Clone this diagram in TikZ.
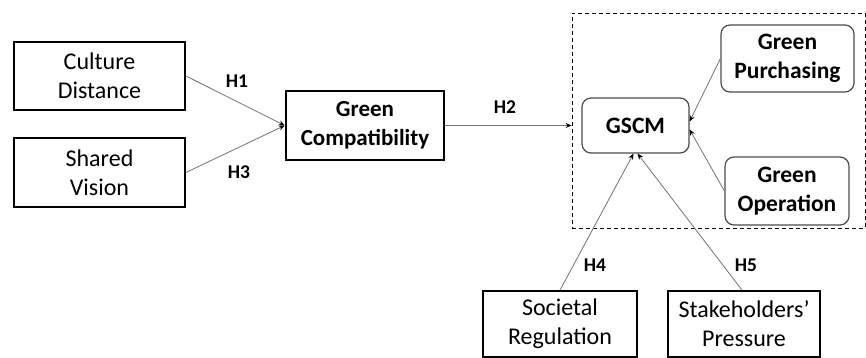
\documentclass[tikz,border=0pt]{standalone}
\usepackage{fontspec}
\setmainfont{Carlito}
\usetikzlibrary{arrows.meta}

\tikzset{
  plainbox/.style={draw=black, line width=1.8pt, align=center, inner sep=0pt,
    font=\fontsize{24}{29}\selectfont},
  corebox/.style={draw=black, line width=2.6pt, align=center, inner sep=0pt,
    font=\bfseries\fontsize{23}{29}\selectfont},
  roundbox/.style={draw=black!70, line width=1.2pt, rounded corners=9pt, align=center,
    inner sep=0pt, font=\bfseries\fontsize{23.5}{29}\selectfont},
  groupbox/.style={draw=black, line width=0.8pt, dash pattern=on 4pt off 3pt, inner sep=0pt},
  link/.style={draw=black!55, line width=0.8pt,
    -{Stealth[length=6pt, width=5pt, color=black]}},
  hyp/.style={font=\bfseries\fontsize{19.5}{22}\selectfont, inner sep=0pt}
}

\begin{document}
\begin{tikzpicture}[x=1pt, y=-1pt]
  \useasboundingbox (0,0) rectangle (866,358);

  % grouping frame around the GSCM construct
  \node[groupbox, minimum width=293pt, minimum height=215pt] (grp) at (718.5,120.5) {};

  % antecedents
  \node[plainbox, minimum width=171pt, minimum height=68pt] (cd) at (99.5,76) {Culture\\Distance};
  \node[plainbox, minimum width=171pt, minimum height=69pt] (sv) at (99.5,172.5) {Shared\\Vision};
  \node[corebox, minimum width=158pt, minimum height=69pt] (gc) at (365,125.5) {Green\\Compatibility};

  % GSCM and its dimensions
  \node[roundbox, minimum width=107pt, minimum height=55pt] (gscm) at (635.5,125.5) {GSCM};
  \node[roundbox, minimum width=133pt, minimum height=67pt] (gp) at (787.5,58.5) {Green\\Purchasing};
  \node[roundbox, minimum width=124pt, minimum height=68pt] (go) at (787,191) {Green\\Operation};

  % external drivers
  \node[plainbox, minimum width=154pt, minimum height=66pt] (sr) at (560,324) {Societal\\Regulation};
  \node[plainbox, minimum width=152pt, minimum height=66pt] (sp) at (744,324) {Stakeholders’\\Pressure};

  % hypothesised paths
  \draw[link] (cd.east) -- (gc.west);
  \draw[link] (sv.east) -- (gc.west);
  \draw[link] (gc.east) -- (gc.east -| grp.west);
  \draw[link] (gp.west) -- ([yshift=4pt]gscm.east);
  \draw[link] (go.west) -- ([yshift=-4pt]gscm.east);
  \draw[link] (sr.north) -- ([xshift=-2pt]gscm.south);
  \draw[link] ([xshift=-2pt]sp.north) -- ([xshift=2pt]gscm.south);

  % path labels
  \node[hyp] (h1) at (237,81) {H1};
  \node[hyp] (h3) at (239,172) {H3};
  \node[hyp] (h2) at (505,107) {H2};
  \node[hyp] (h4) at (595,265) {H4};
  \node[hyp] (h5) at (746,265) {H5};
\end{tikzpicture}
\end{document}
